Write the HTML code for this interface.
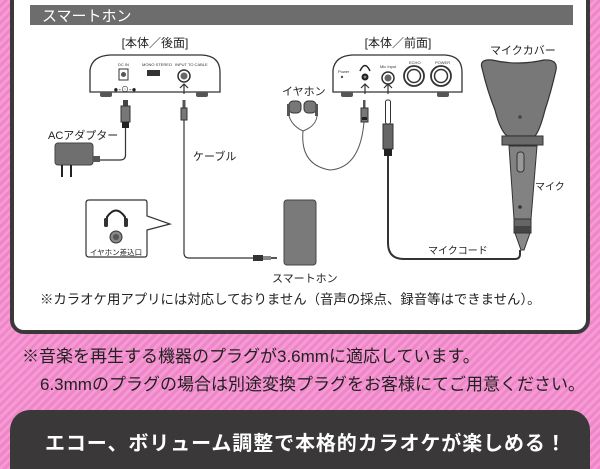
<!DOCTYPE html>
<html><head><meta charset="utf-8"><style>
html,body{margin:0;padding:0;width:600px;height:469px;overflow:hidden}
body{background:#f08bcb repeating-linear-gradient(135deg,#f59ad4 0 3px,#ee86c7 3px 6px);position:relative;font-family:"Liberation Sans","Noto Sans CJK JP",sans-serif}
.panel{position:absolute;left:10px;top:-10px;width:572px;height:336px;background:#fff;border:4px solid #3a3839;border-radius:0 0 14px 14px}
.dark{position:absolute;left:10px;top:410px;width:580px;height:80px;background:#3a3839;border-radius:20px 20px 0 0}
.t{position:absolute;white-space:nowrap;color:#222}
</style></head><body>
<div class="panel"></div>
<svg width="600" height="469" style="position:absolute;left:0;top:0" font-family="Liberation Sans, Noto Sans CJK JP, sans-serif">
<rect x="30" y="5" width="543" height="20" fill="#6d6d6d"/>
<text x="42" y="21" fill="#fff" font-size="15">スマートホン</text>
<!-- rear unit -->
<text x="155" y="47" font-size="12" text-anchor="middle" fill="#222">[本体／後面]</text>
<path d="M90 92 V70 Q92 56 110 55 H202 Q220 56 220 72 V92 Z" fill="#fff" stroke="#333" stroke-width="1.3"/>
<rect x="100" y="92" width="12" height="5" rx="2" fill="#555"/><rect x="196" y="92" width="12" height="5" rx="2" fill="#555"/>
<text x="118" y="66" font-size="4" fill="#333">DC IN</text><text x="142" y="66" font-size="4" fill="#333">MONO STEREO</text><text x="175" y="66" font-size="4" fill="#333">INPUT TO CABLE</text>
<rect x="119" y="69" width="9" height="11" fill="#fff" stroke="#333"/><circle cx="123.5" cy="74.5" r="2.5" fill="#555"/>
<rect x="147" y="70" width="13" height="6" fill="#333"/>
<circle cx="184" cy="76" r="6" fill="#fff" stroke="#333" stroke-width="1.5"/><circle cx="184" cy="76" r="3.5" fill="#666"/>
<text x="125" y="92" font-size="8" fill="#222" text-anchor="middle">●-⊙-●</text>
<path d="M184 94 V84 M180 88 L184 84 L188 88" stroke="#333" fill="none" stroke-width="1.2"/>
<!-- DC plug & cable -->
<rect x="123" y="100" width="5" height="6" fill="#444"/><rect x="121" y="106" width="9" height="16" fill="#777" stroke="#333"/><rect x="122" y="122" width="7" height="6" fill="#222"/>
<path d="M125.5 128 V155 Q125.5 160 120 160 H98" stroke="#333" fill="none" stroke-width="1.2"/>
<text x="48" y="139" font-size="11" fill="#222">ACアダプター</text>
<rect x="55" y="143" width="38" height="22" rx="3" fill="#6f6f6f" stroke="#444"/><rect x="93" y="156" width="7" height="6" fill="#555"/>
<rect x="61" y="165" width="2" height="12" fill="#222"/><rect x="70" y="165" width="2" height="12" fill="#222"/>
<!-- cable -->
<rect x="182.5" y="100" width="3" height="8" fill="#555"/><rect x="181" y="108" width="6" height="12" fill="#777" stroke="#333"/>
<path d="M184 120 V253 Q184 258 189 258 H253" stroke="#333" fill="none" stroke-width="1.2"/>
<rect x="253" y="255" width="10" height="6" fill="#333"/><rect x="263" y="256" width="8" height="4" fill="#888"/><rect x="271" y="257" width="6" height="2" fill="#555"/>
<text x="193" y="160" font-size="11" fill="#222">ケーブル</text>
<rect x="284" y="200" width="32" height="65" rx="3" fill="#7a7a7a" stroke="#444"/>
<text x="272" y="282" font-size="11" fill="#222">スマートホン</text>
<!-- bubble -->
<path d="M89 200 H145 Q147 200 147 203 V216 L170 224 L147 230 V254 Q147 257 145 257 H89 Q86 257 86 254 V203 Q86 200 89 200 Z" fill="#fff" stroke="#333" stroke-width="1.2"/>
<path d="M107 224 V217 Q116 204 125 217 V224" stroke="#222" fill="none" stroke-width="2"/>
<rect x="104" y="218" width="4" height="9" rx="1.5" fill="#333"/><rect x="124" y="218" width="4" height="9" rx="1.5" fill="#333"/>
<circle cx="116" cy="237" r="6" fill="#888" stroke="#333"/><circle cx="116" cy="237" r="3" fill="#555"/>
<text x="116" y="255" font-size="7.5" text-anchor="middle" fill="#222">イヤホン差込口</text>
<!-- front unit -->
<text x="398" y="47" font-size="12" text-anchor="middle" fill="#222">[本体／前面]</text>
<path d="M333 92 V70 Q335 56 352 55 H445 Q462 56 462 72 V92 Z" fill="#fff" stroke="#333" stroke-width="1.3"/>
<rect x="341" y="92" width="12" height="5" rx="2" fill="#555"/><rect x="437" y="92" width="12" height="5" rx="2" fill="#555"/>
<text x="338" y="73" font-size="4" fill="#333">Power</text><circle cx="342" cy="77" r="1.2" fill="#555"/>
<path d="M360 71 Q365 60 370 71" stroke="#222" fill="none" stroke-width="1.5"/>
<circle cx="365" cy="77" r="3.5" fill="#222"/><circle cx="365" cy="77" r="1.4" fill="#888"/>
<text x="380" y="68" font-size="4" fill="#333">Mic Input</text>
<circle cx="388" cy="78" r="6" fill="#fff" stroke="#333" stroke-width="1.5"/><circle cx="388" cy="78" r="3.5" fill="#666"/>
<text x="409" y="64" font-size="4" fill="#333">ECHO</text><text x="435" y="64" font-size="4" fill="#333">POWER</text>
<circle cx="414" cy="76" r="10" fill="#fff" stroke="#333" stroke-width="1.8"/><circle cx="414" cy="76" r="6.5" fill="#fff" stroke="#333" stroke-width="1.5"/>
<circle cx="441" cy="76" r="10" fill="#fff" stroke="#333" stroke-width="1.8"/><circle cx="441" cy="76" r="6.5" fill="#fff" stroke="#333" stroke-width="1.5"/>
<path d="M365 94 V84 M361 88 L365 84 L369 88 M388 94 V84 M384 88 L388 84 L392 88" stroke="#333" fill="none" stroke-width="1.2"/>
<!-- earphones -->
<text x="282" y="95" font-size="11" fill="#222">イヤホン</text>
<rect x="289" y="101" width="12" height="12" rx="4" fill="#777" stroke="#333"/><rect x="304" y="101" width="12" height="12" rx="4" fill="#777" stroke="#333"/>
<rect x="287" y="104" width="3" height="12" fill="#555"/><rect x="315" y="104" width="3" height="12" fill="#555"/>
<path d="M289 116 Q292 126 303 131 Q316 126 317 116 M303 131 Q300 165 330 170 Q360 168 364 122" stroke="#555" fill="none" stroke-width="1"/>
<rect x="363" y="100" width="2.5" height="8" fill="#555"/><rect x="361" y="108" width="7" height="14" fill="#777" stroke="#333"/><rect x="362" y="117" width="5" height="3" fill="#222"/>
<!-- mic plug & cord -->
<rect x="385.5" y="100" width="5" height="24" rx="2" fill="#fff" stroke="#333"/><rect x="383" y="124" width="10" height="25" fill="#666" stroke="#333"/><rect x="384" y="149" width="8" height="7" fill="#222"/>
<path d="M388 156 V243 Q388 259 404 259 H515 Q520 259 520 254 V250" stroke="#333" fill="none" stroke-width="2"/>
<text x="428" y="254" font-size="10" fill="#222">マイクコード</text>
<!-- mic cover -->
<text x="490" y="54" font-size="11" fill="#222">マイクカバー</text>
<path d="M482 68 Q479 59 492 60 Q518 66 544 60 Q558 59 556 70 Q551 92 545 110 Q540 130 535 136 H507 Q500 130 495 110 Q487 90 482 68 Z" fill="#787878" stroke="#333" stroke-width="1.2"/>
<circle cx="520" cy="117" r="1.8" fill="#444"/>
<!-- mic -->
<rect x="502" y="136" width="41" height="9" fill="#6a6a6a" stroke="#333"/>
<path d="M509 146 H537 L531 219 H514 Z" fill="#828282" stroke="#333"/>
<rect x="517" y="152" width="7" height="20" rx="3" fill="#999" stroke="#333"/>
<circle cx="520" cy="207" r="1.8" fill="#333"/>
<rect x="514" y="219" width="17" height="14" fill="#666" stroke="#333"/><rect x="514" y="226" width="17" height="7" fill="#444"/>
<path d="M515 233 H530 L524 250 H521 Z" fill="#888" stroke="#333"/>
<text x="535" y="190" font-size="10" fill="#222">マイク</text>
</svg>
<div class="t" style="left:40px;top:288px;font-size:13.4px">※カラオケ用アプリには対応しておりません（音声の採点、録音等はできません）。</div>
<div class="t" style="left:22px;top:342px;font-size:17px">※音楽を再生する機器のプラグが3.6mmに適応しています。</div>
<div class="t" style="left:40px;top:370px;font-size:17px">6.3mmのプラグの場合は別途変換プラグをお客様にてご用意ください。</div>
<div class="dark"></div>
<div class="t" style="left:45px;top:427px;font-size:20px;letter-spacing:0.9px;font-weight:bold;color:#fff">エコー、ボリューム調整で本格的カラオケが楽しめる！</div>
</body></html>
